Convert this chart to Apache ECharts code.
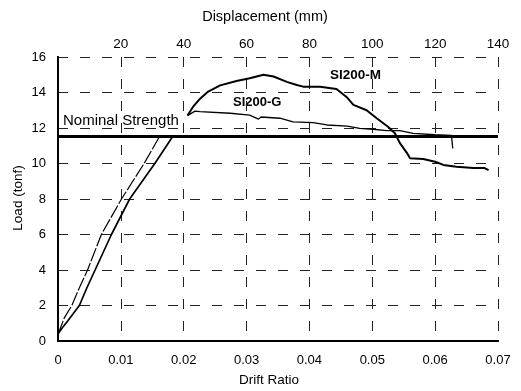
<!DOCTYPE html>
<html>
<head>
<meta charset="utf-8">
<script src="https://cdn.jsdelivr.net/npm/echarts@6/dist/echarts.min.js"></script>
<style>html,body{margin:0;padding:0;background:#fff}#c{width:521px;height:391px}</style>
</head>
<body>
<div id="c"></div>
<script>
// Drift ratio ticks and load ticks
var driftTicks = [0, 0.01, 0.02, 0.03, 0.04, 0.05, 0.06, 0.07];
var dispTicks = [0, 20, 40, 60, 80, 100, 120, 140];
var loadTicks = [0, 2, 4, 6, 8, 10, 12, 14, 16];
var nominalStrength = 11.55;

// [drift ratio, load (tonf)]
var gInitial = [[0,0.4],[0.0003,0.65],[0.0010,1.3],[0.0022,2],[0.0034,3],[0.0047,4],[0.0069,6],[0.0101,8],[0.0137,10],[0.0162,11.55]];
var mInitial = [[0,0.4],[0.0006,0.7],[0.0016,1.15],[0.0034,2],[0.0046,3],[0.0059,4],[0.0085,6],[0.0114,8],[0.0154,10],[0.0183,11.55]];
var mPost = [[0.0206,12.7],[0.0215,13.2],[0.0226,13.65],[0.0239,14.05],[0.0258,14.4],[0.0284,14.65],[0.0305,14.8],[0.0327,15.0],[0.0343,14.9],[0.0364,14.6],[0.0380,14.42],[0.0390,14.33],[0.0417,14.33],[0.0443,14.2],[0.0459,13.75],[0.0470,13.3],[0.0491,13.0],[0.0507,12.55],[0.0525,12.07],[0.0536,11.7],[0.0544,11.15],[0.0555,10.6],[0.0560,10.3],[0.0581,10.25],[0.0600,10.1],[0.0613,9.92],[0.0634,9.82],[0.0661,9.75],[0.0678,9.75],[0.0685,9.63]];
var gPost = [[0.0206,12.7],[0.0218,12.95],[0.0226,12.92],[0.0274,12.83],[0.0305,12.73],[0.0319,12.5],[0.0323,12.62],[0.0353,12.55],[0.0374,12.35],[0.0406,12.3],[0.0428,12.17],[0.0460,12.11],[0.0480,11.98],[0.0501,11.93],[0.0523,11.85],[0.0544,11.85],[0.0565,11.7],[0.0600,11.62],[0.0626,11.58],[0.0628,10.85]];

var FONT = 'Liberation Sans, Arial, sans-serif';
var chart = echarts.init(document.getElementById('c'), null, {renderer: 'canvas'});
var gridDash = {color: '#222', width: 1, type: [10, 12]};
chart.setOption({
  animation: false,
  backgroundColor: '#fff',
  grid: {left: 58, right: 23, top: 57, bottom: 50},
  xAxis: [{
    type: 'value', position: 'bottom',
    min: driftTicks[0], max: driftTicks[driftTicks.length - 1], interval: 0.01,
    axisLine: {show: true, lineStyle: {color: '#000', width: 2}},
    axisTick: {show: false},
    axisLabel: {color: '#000', fontFamily: FONT, fontSize: 13, margin: 13,
      formatter: function (v) { return v === 0 ? '0' : v.toFixed(2); }},
    splitLine: {show: true, lineStyle: gridDash}
  }, {
    type: 'value', position: 'top',
    min: dispTicks[0], max: dispTicks[dispTicks.length - 1], interval: 20,
    axisLine: {show: true, lineStyle: {color: '#000', width: 2}},
    axisTick: {show: false},
    axisLabel: {color: '#000', fontFamily: FONT, fontSize: 13.5, margin: 6,
      formatter: function (v) { return v === 0 ? '' : String(v); }},
    splitLine: {show: false}
  }],
  yAxis: [{
    type: 'value', position: 'left',
    min: loadTicks[0], max: loadTicks[loadTicks.length - 1], interval: 2,
    axisLine: {show: true, lineStyle: {color: '#000', width: 2}},
    axisTick: {show: false},
    axisLabel: {color: '#000', fontFamily: FONT, fontSize: 13, margin: 12},
    splitLine: {show: true, lineStyle: gridDash}
  }, {
    type: 'value', position: 'right',
    min: loadTicks[0], max: loadTicks[loadTicks.length - 1], interval: 2,
    axisLine: {show: true, lineStyle: {color: '#000', width: 2}},
    axisTick: {show: false}, axisLabel: {show: false}, splitLine: {show: false}
  }],
  series: [{
    type: 'line', data: gInitial, showSymbol: false, symbol: 'none',
    lineStyle: {color: '#000', width: 1.2, type: [14, 2]}
  }, {
    type: 'line', data: mInitial, showSymbol: false, symbol: 'none',
    lineStyle: {color: '#000', width: 1.7}
  }, {
    type: 'line', data: gPost, showSymbol: false, symbol: 'none',
    lineStyle: {color: '#000', width: 1.3}
  }, {
    type: 'line', data: mPost, showSymbol: false, symbol: 'none',
    lineStyle: {color: '#000', width: 2},
    markLine: {
      silent: true, symbol: 'none', label: {show: false},
      lineStyle: {color: '#000', width: 3, type: 'solid'},
      data: [{yAxis: nominalStrength}]
    }
  }],
  graphic: [
    {type: 'text', x: 265, y: 17, style: {text: 'Displacement (mm)', font: '14.5px ' + FONT, fill: '#000', textAlign: 'center', textVerticalAlign: 'middle'}},
    {type: 'text', x: 269, y: 380, style: {text: 'Drift Ratio', font: '13.5px ' + FONT, fill: '#000', textAlign: 'center', textVerticalAlign: 'middle'}},
    {type: 'text', x: 18, y: 198, rotation: Math.PI / 2, style: {text: 'Load (tonf)', font: '13.5px ' + FONT, fill: '#000', textAlign: 'center', textVerticalAlign: 'middle'}},
    {type: 'text', x: 63, y: 121, style: {text: 'Nominal Strength', font: '15px ' + FONT, fill: '#000', textVerticalAlign: 'middle'}},
    {type: 'text', x: 233, y: 102, style: {text: 'SI200-G', font: 'bold 13px ' + FONT, fill: '#000', textVerticalAlign: 'middle'}},
    {type: 'text', x: 330, y: 75, style: {text: 'SI200-M', font: 'bold 13.5px ' + FONT, fill: '#000', textVerticalAlign: 'middle'}}
  ]
});
</script>
</body>
</html>
